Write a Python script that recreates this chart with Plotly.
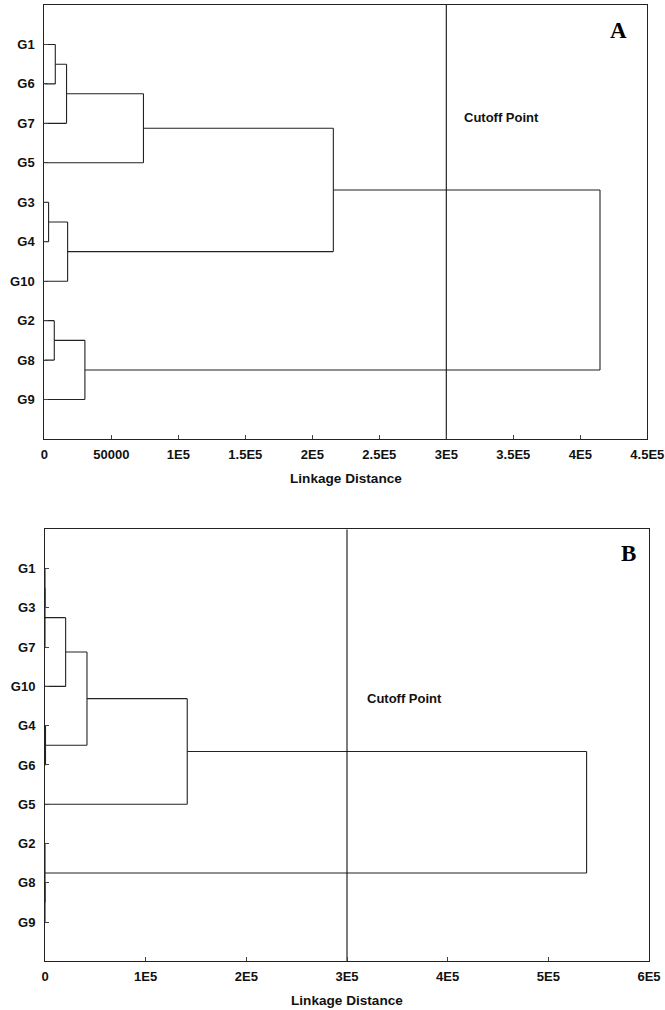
import plotly.graph_objects as go

# ---- Panel A: hierarchical clustering (leaf order top to bottom) ----
leaves_a = ["G1", "G6", "G7", "G5", "G3", "G4", "G10", "G2", "G8", "G9"]
# (node name, left child, right child, linkage distance)
merges_a = [
    ("a1", "G1", "G6", 8200),
    ("a2", "a1", "G7", 16600),
    ("a3", "a2", "G5", 74000),
    ("a4", "G3", "G4", 3200),
    ("a5", "a4", "G10", 17400),
    ("a6", "a3", "a5", 215700),
    ("a7", "G2", "G8", 7450),
    ("a8", "a7", "G9", 30300),
    ("a9", "a6", "a8", 414700),
]
xticks_a = [0, 50000, 100000, 150000, 200000, 250000, 300000, 350000, 400000, 450000]
xlabels_a = ["0", "50000", "1E5", "1.5E5", "2E5", "2.5E5", "3E5", "3.5E5", "4E5", "4.5E5"]

# ---- Panel B ----
leaves_b = ["G1", "G3", "G7", "G10", "G4", "G6", "G5", "G2", "G8", "G9"]
merges_b = [
    ("b1", "G1", "G3", 0),
    ("b2", "b1", "G7", 0),
    ("b3", "b2", "G10", 20500),
    ("b4", "G4", "G6", 500),
    ("b5", "b3", "b4", 41700),
    ("b6", "b5", "G5", 141300),
    ("b7", "G8", "G9", 0),
    ("b8", "G2", "b7", 0),
    ("b9", "b6", "b8", 538000),
]
xticks_b = [0, 100000, 200000, 300000, 400000, 500000, 600000]
xlabels_b = ["0", "1E5", "2E5", "3E5", "4E5", "5E5", "6E5"]

cutoff = 300000


def dendro_segments(leaves, merges):
    pos = {name: i for i, name in enumerate(leaves)}
    height = {name: 0 for name in leaves}
    xs, ys = [], []
    for node, left, right, h in merges:
        # vertical link joining the two children
        xs += [h, h, None]
        ys += [pos[left], pos[right], None]
        # horizontal arms from each child up to the link
        for child in (left, right):
            xs += [height[child], h, None]
            ys += [pos[child], pos[child], None]
        pos[node] = (pos[left] + pos[right]) / 2
        height[node] = h
    return xs, ys


W, H = 665, 1010
line_col = "#222222"
font_lbl = dict(family="Liberation Sans, Arial, sans-serif", size=13, color="#111111", weight="bold")

fig = go.Figure()

panels = [
    ("x", "y", leaves_a, merges_a, xticks_a, xlabels_a, 450000,
     [44.3 / W, 647.3 / W], [1 - 439 / H, 1 - 5 / H]),
    ("x2", "y2", leaves_b, merges_b, xticks_b, xlabels_b, 600000,
     [45 / W, 649 / W], [1 - 961.3 / H, 1 - 529.3 / H]),
]

layout_axes = {}
for i, (xa, ya, leaves, merges, xt, xl, xmax, xdom, ydom) in enumerate(panels):
    xs, ys = dendro_segments(leaves, merges)
    fig.add_trace(go.Scatter(x=xs, y=ys, xaxis=xa, yaxis=ya, mode="lines",
                             line=dict(color=line_col, width=1.1),
                             hoverinfo="skip", showlegend=False))
    fig.add_trace(go.Scatter(x=[cutoff, cutoff], y=[-1, len(leaves)], xaxis=xa, yaxis=ya,
                             mode="lines", line=dict(color="#111111", width=1.1),
                             hoverinfo="skip", showlegend=False))
    sfx = "" if i == 0 else "2"
    layout_axes["xaxis" + sfx] = dict(
        domain=xdom, range=[0, xmax], tickvals=xt, ticktext=xl,
        ticks="inside", ticklen=4, tickcolor="#444444", tickwidth=1,
        showline=True, mirror=True, linecolor="#222222", linewidth=1,
        showgrid=False, zeroline=False, tickfont=font_lbl,
        anchor="y" + sfx, fixedrange=True, automargin=False, ticklabelstandoff=3,
    )
    layout_axes["yaxis" + sfx] = dict(
        domain=ydom, range=[len(leaves), -1], tickvals=list(range(len(leaves))),
        ticktext=leaves, ticks="inside", ticklen=4, tickcolor="#444444", tickwidth=1,
        showline=True, mirror=True, linecolor="#222222", linewidth=1,
        showgrid=False, zeroline=False, tickfont=font_lbl,
        anchor="x" + sfx, fixedrange=True, automargin=False, ticklabelstandoff=6,
    )

fig.update_layout(**layout_axes)

ann_font = dict(family="Liberation Sans, Arial, sans-serif", size=13, color="#111111", weight="bold")
title_font = dict(family="Liberation Sans, Arial, sans-serif", size=13.6, color="#111111", weight="bold")
letter_font = dict(family="Liberation Serif, Times New Roman, serif", size=23, color="#000000", weight="bold")

annotations = [
    dict(text="Cutoff Point", x=461.7 / W, y=1 - 118 / H, xanchor="left", yanchor="middle", font=ann_font),
    dict(text="Cutoff Point", x=365 / W, y=1 - 698 / H, xanchor="left", yanchor="middle", font=ann_font),
    dict(text="Linkage Distance", x=345.8 / W, y=1 - 478 / H, xanchor="center", yanchor="middle", font=title_font),
    dict(text="Linkage Distance", x=347 / W, y=1 - 1000 / H, xanchor="center", yanchor="middle", font=title_font),
    dict(text="A", x=618 / W, y=1 - 30 / H, xanchor="center", yanchor="middle", font=letter_font),
    dict(text="B", x=628 / W, y=1 - 553 / H, xanchor="center", yanchor="middle", font=letter_font),
]
for a in annotations:
    a.update(xref="paper", yref="paper", showarrow=False)

fig.update_layout(
    width=W, height=H, margin=dict(l=0, r=0, t=0, b=0),
    paper_bgcolor="white", plot_bgcolor="white",
    annotations=annotations, showlegend=False,
)

fig.write_html("out.html", config={"displayModeBar": False})
